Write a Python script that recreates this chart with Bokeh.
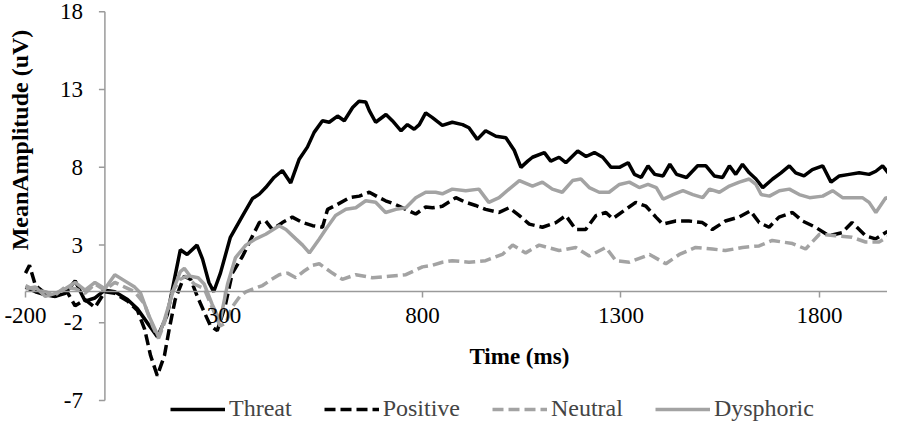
import math
from bokeh.plotting import figure
from bokeh.models import FixedTicker, Label, Legend, LegendItem, Range1d
from bokeh.core.properties import value
from bokeh.embed import file_html
from bokeh.resources import INLINE

# ---- data ----
x_ticks = [-200, 300, 800, 1300, 1800]
y_ticks = [-7, -2, 3, 8, 13, 18]
y_tick_labels = ["-7", "-2", "3", "8", "13", "18"]

threat_t = [-200, -175, -150, -125, -100, -75, -50, -25, 0,
            25, 57, 82, 107, 132, 157, 175, 190, 207, 232,
            246, 262, 274, 291, 316, 347, 372, 389, 405, 426,
            447, 468, 489, 510, 527, 548, 565, 586, 603, 624,
            640, 657, 666, 682, 708, 724, 746, 762, 779, 792,
            808, 825, 850, 875, 901, 917, 938, 959, 985, 1010,
            1031, 1048, 1065, 1077, 1107, 1123, 1144, 1161, 1191, 1212,
            1233, 1254, 1275, 1296, 1318, 1334, 1351, 1368, 1385, 1406,
            1423, 1440, 1465, 1493, 1514, 1535, 1556, 1573, 1589, 1606,
            1623, 1640, 1657, 1682, 1703, 1724, 1740, 1761, 1782, 1808,
            1829, 1850, 1875, 1900, 1925, 1942, 1959, 1976, 1989, 2000]
threat_v = [0.3, 0.0, -0.2, -0.3, -0.1, 0.7, -0.6, -0.4, 0.1,
            0.0, -0.5, -1.1, -2.0, -2.9, -1.5, 0.8, 2.7, 2.4, 3.0,
            2.1, 0.6, 0.0, 1.2, 3.5, 4.9, 6.0, 6.28, 6.7, 7.35,
            7.8, 7.0, 8.5, 9.3, 10.25, 11.0, 10.9, 11.3, 11.0, 11.85,
            12.25, 12.2, 11.65, 10.9, 11.4, 11.0, 10.35, 10.75, 10.45, 10.75,
            11.5, 11.2, 10.7, 10.9, 10.75, 10.55, 9.8, 10.35, 10.0, 9.9,
            9.1, 8.0, 8.4, 8.65, 8.95, 8.4, 8.65, 8.3, 9.05, 8.7,
            8.95, 8.65, 8.0, 8.0, 8.3, 7.55, 7.35, 8.1, 7.55, 7.45,
            8.2, 7.55, 7.35, 8.1, 8.1, 7.45, 7.35, 8.1, 7.55, 8.2,
            7.65, 7.25, 6.7, 7.25, 7.65, 8.1, 7.65, 7.45, 7.85, 8.1,
            7.05, 7.45, 7.55, 7.65, 7.55, 7.75, 8.1, 7.55, 6.7, 6.5]

positive_t = [-200, -190, -175, -150, -125, -100, -75, -50, -25, 0, 25, 57, 82, 100, 115, 132,
              150, 162, 177, 200, 216, 232, 250, 266, 283, 303, 321, 347, 372, 389, 405, 422, 447,
              472, 498, 523, 548, 561, 581, 616, 641, 666, 691, 707, 733, 758, 783, 808, 825, 850,
              884, 909, 934, 959, 993, 1018, 1044, 1069, 1102, 1136, 1161, 1186, 1211, 1237, 1262,
              1279, 1312, 1337, 1363, 1388, 1405, 1438, 1471, 1505, 1530, 1563, 1597, 1626, 1648,
              1673, 1698, 1732, 1757, 1790, 1824, 1857, 1882, 1916, 1941, 1966, 2000]
positive_v = [1.2, 1.7, 0.4, -0.1, -0.3, 0.2, -0.9, -0.5, -1.0, 0.0, -0.1, -0.6, -1.2, -2.4, -4.1,
              -5.4, -4.1, -2.4, -0.5, 1.0, 0.8, -0.25, -1.3, -2.2, -2.5, -0.9, 1.2, 2.3, 3.6, 4.45,
              4.55, 4.0, 4.45, 4.8, 4.45, 4.25, 4.15, 5.3, 5.55, 6.05, 6.15, 6.4, 6.05, 5.85, 5.6,
              5.3, 5.0, 5.45, 5.4, 5.5, 6.05, 5.75, 5.55, 5.3, 5.1, 5.4, 4.9, 4.35, 4.15, 4.45, 4.9,
              4.0, 4.0, 4.9, 5.1, 4.7, 5.3, 5.75, 5.5, 4.8, 4.35, 4.55, 4.55, 4.45, 4.0, 4.55, 4.8,
              5.2, 4.45, 4.15, 4.8, 5.1, 4.55, 4.15, 3.6, 3.8, 4.45, 3.6, 3.4, 3.8, 4.2]

neutral_t = [-200, -175, -150, -125, -100, -75, -50, -25, 0, 25, 50, 75, 100, 120, 135, 150, 170,
             190, 205, 225, 250, 270, 290, 305, 320, 340, 355, 375, 397, 420, 439, 460, 481, 500,
             523, 540, 573, 598, 632, 674, 716, 758, 800, 825, 850, 875, 917, 959, 1001, 1027,
             1060, 1094, 1144, 1186, 1220, 1262, 1287, 1321, 1372, 1413, 1447, 1488, 1530, 1563,
             1606, 1648, 1681, 1732, 1765, 1800, 1840, 1882, 1916, 1950, 1983, 2000]
neutral_v = [0.4, 0.1, 0.0, -0.2, 0.3, 0.2, -0.1, 0.5, 0.1, 0.6, 0.3, 0.0, -0.8, -2.2, -3.0, -2.0,
             0.0, 0.8, 1.0, 0.5, 0.2, -1.0, -2.2, -2.0, -1.0, -0.3, 0.0, 0.2, 0.4, 0.8, 1.1, 1.2,
             0.9, 1.3, 1.7, 1.8, 1.2, 0.8, 1.1, 0.9, 1.0, 1.1, 1.6, 1.7, 1.9, 2.0, 1.9, 2.0, 2.4,
             3.0, 2.5, 3.0, 2.65, 2.85, 2.3, 2.85, 2.0, 1.9, 2.4, 1.8, 2.4, 2.85, 2.75, 2.65, 2.85,
             2.95, 3.3, 3.1, 2.75, 3.7, 3.6, 3.5, 3.2, 3.2, 3.7, 3.6]

dysphoric_t = [-200, -175, -150, -125, -100, -75, -50, -25, 0, 25,
               50, 75, 90, 110, 135, 150, 175, 190, 200, 215,
               235, 250, 270, 290, 309, 329, 355, 380, 405, 439,
               456, 481, 498, 515, 540, 556, 581, 607, 632, 657,
               682, 707, 733, 758, 783, 808, 833, 850, 875, 909,
               942, 967, 993, 1018, 1044, 1077, 1102, 1127, 1152, 1178,
               1199, 1220, 1245, 1270, 1296, 1321, 1346, 1368, 1389, 1406,
               1431, 1456, 1481, 1506, 1523, 1548, 1573, 1598, 1623, 1640,
               1653, 1674, 1699, 1724, 1749, 1775, 1808, 1833, 1858, 1883,
               1908, 1925, 1942, 1967, 1989, 2000]
dysphoric_v = [0.2, 0.3, -0.3, -0.1, 0.2, 0.6, 0.1, 0.6, 0.2, 1.1,
               0.7, 0.3, -0.1, -1.5, -2.9, -1.8, 0.3, 1.3, 1.5, 1.0,
               0.9, 0.5, -0.8, -1.9, 0.5, 2.2, 3.0, 3.4, 3.7, 4.25,
               4.0, 3.4, 3.0, 2.5, 3.4, 4.0, 4.9, 5.3, 5.4, 5.85,
               5.75, 5.1, 5.3, 5.4, 6.05, 6.4, 6.4, 6.3, 6.6, 6.5,
               6.6, 5.75, 6.05, 6.6, 7.15, 6.8, 7.05, 6.6, 6.4, 7.15,
               7.25, 6.7, 6.4, 6.4, 6.9, 7.05, 6.7, 6.9, 6.7, 5.95,
               6.25, 6.5, 6.25, 6.05, 6.6, 6.4, 6.8, 7.05, 7.25, 6.9,
               6.25, 6.15, 6.5, 6.6, 6.25, 6.05, 6.15, 6.5, 6.05, 6.05,
               6.05, 5.75, 5.1, 6.05, 5.85, 5.7]

FONT = "Liberation Serif"
GRAY = "#a3a3a3"
AXIS_GRAY = "#9a9a9a"

p = figure(width=887, height=425, x_range=Range1d(-263, 1971.3), y_range=Range1d(-8.60, 18.73),
           output_backend="svg", toolbar_location=None, min_border=0)
p.outline_line_color = None
p.xgrid.visible = False
p.ygrid.visible = False
p.background_fill_color = "white"
p.border_fill_color = "white"

# x axis: Bokeh axis fixed at y = 0
xa = p.xaxis[0]
xa.fixed_location = 0
xa.bounds = (x_ticks[0], 1971.3)
xa.ticker = FixedTicker(ticks=x_ticks)
xa.major_label_overrides = {t: str(t) for t in x_ticks}
xa.axis_line_color = AXIS_GRAY
xa.axis_line_width = 1.5
xa.major_tick_line_color = AXIS_GRAY
xa.major_tick_line_width = 1.5
xa.major_tick_in = 0
xa.major_tick_out = 6
xa.minor_tick_line_color = None
xa.major_label_text_font = FONT
xa.major_label_text_font_size = "23px"
xa.major_label_text_color = "black"
xa.major_label_standoff = 10

# y axis crossing at t = 0, drawn through the data scales
p.yaxis.visible = False
p.segment(x0=[0], y0=[y_ticks[0]], x1=[0], y1=[y_ticks[-1]], line_color=AXIS_GRAY,
          line_width=1.5)
p.ray(x=[0] * len(y_ticks), y=y_ticks, length=6, length_units="screen", angle=math.pi,
      line_color=AXIS_GRAY, line_width=1.5)
p.text(x=[0] * len(y_ticks), y=y_ticks, text=y_tick_labels, x_offset=-22,
       text_align="right", text_baseline="middle", text_font=value(FONT),
       text_font_size="23px", text_color="black")

r_threat = p.line(threat_t, threat_v, line_color="black", line_width=3.5)
r_positive = p.line(positive_t, positive_v, line_color="black", line_width=3.5,
                    line_dash="11 5")
r_neutral = p.line(neutral_t, neutral_v, line_color=GRAY, line_width=3.5, line_dash="11 5")
r_dysphoric = p.line(dysphoric_t, dysphoric_v, line_color=GRAY, line_width=3.5)

p.add_layout(Label(x=-215, y=9.95, text="MeanAmplitude  (uV)", angle=math.pi / 2,
                   text_align="center", text_baseline="middle", text_font=FONT,
                   text_font_size="24px", text_font_style="bold", text_color="black"))
p.add_layout(Label(x=1044, y=-4.16, text="Time (ms)", text_align="center",
                   text_baseline="middle", text_font=FONT, text_font_size="23px",
                   text_font_style="bold", text_color="black"))

legend = Legend(items=[LegendItem(label="Threat", renderers=[r_threat]),
                       LegendItem(label="Positive", renderers=[r_positive]),
                       LegendItem(label="Neutral", renderers=[r_neutral]),
                       LegendItem(label="Dysphoric", renderers=[r_dysphoric])],
                orientation="horizontal", location=(170, 3),
                padding=0, margin=0, spacing=32, label_standoff=4,
                glyph_width=55, glyph_height=20, label_height=20,
                label_text_font=FONT, label_text_font_size="24px",
                label_text_baseline="middle",
                border_line_color=None, background_fill_alpha=0)
p.add_layout(legend, "center")

open("out.html", "w").write(file_html(p, INLINE))
